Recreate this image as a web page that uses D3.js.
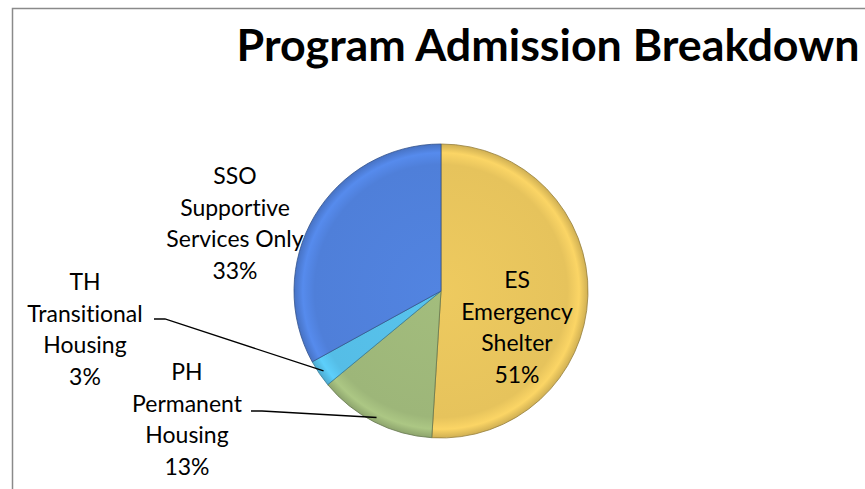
<!DOCTYPE html>
<html>
<head>
<meta charset="utf-8">
<script src="https://cdn.jsdelivr.net/npm/d3@7"></script>
<style>
  body { margin: 0; background: #fff; }
  text { font-family: Lato, "Open Sans", sans-serif; fill: #000; font-variant-ligatures: none; }
</style>
</head>
<body>
<svg id="chart" width="865" height="489"></svg>
<script>
// ------ data ------
var codes = ['ES', 'PH', 'TH', 'SSO']
var names = ['Emergency Shelter', 'Permanent Housing', 'Transitional Housing', 'Supportive Services Only']
var shares = [51, 13, 3, 33]
var colors = ['#e6c35c', '#9db679', '#55bde6', '#4f7fd9']

// label lines, as shown in the chart
var labelLines = [
  ['ES', 'Emergency', 'Shelter', '51%'],
  ['PH', 'Permanent', 'Housing', '13%'],
  ['TH', 'Transitional', 'Housing', '3%'],
  ['SSO', 'Supportive', 'Services Only', '33%']
]

var svg = d3.select('#chart')

// frame of the chart area
svg.append('rect')
  .attr('x', 12.5).attr('y', 8.5)
  .attr('width', 900).attr('height', 600)
  .attr('fill', '#fff')
  .attr('stroke', '#8a8a8a')
  .attr('stroke-width', 1.5)

// ------ title ------
var title = svg.append('text')
  .attr('x', 548).attr('y', 61)
  .attr('text-anchor', 'middle')
  .attr('font-weight', 'bold')
  .attr('font-size', 34)
  .text('Program Admission Breakdown')
// squeeze to the Calibri width of the original
var tw = title.node().getComputedTextLength()
title.attr('font-size', 34 * 623 / tw)

// ------ pie ------
var cx = 441, cy = 291, r = 147

var pie = d3.pie().sort(null).value(function (d) { return d })
var arcs = pie(shares)
var arc = d3.arc().innerRadius(0).outerRadius(r)

var defs = svg.append('defs')
colors.forEach(function (c, i) {
  var g = defs.append('radialGradient')
    .attr('id', 'grad' + i)
    .attr('gradientUnits', 'userSpaceOnUse')
    .attr('cx', 0).attr('cy', 0).attr('r', r)
  g.append('stop').attr('offset', '0%').attr('stop-color', d3.color(c).brighter(0.1))
  g.append('stop').attr('offset', '86%').attr('stop-color', c)
  g.append('stop').attr('offset', '94%').attr('stop-color', d3.color(c).brighter(0.25))
  g.append('stop').attr('offset', '100%').attr('stop-color', d3.color(c).darker(0.3))
})

var g = svg.append('g').attr('transform', 'translate(' + cx + ',' + cy + ')')

g.selectAll('path.slice')
  .data(arcs)
  .enter().append('path')
  .attr('class', 'slice')
  .attr('d', arc)
  .attr('fill', function (d, i) { return 'url(#grad' + i + ')' })
  .attr('stroke', function (d, i) { return d3.color(colors[i]).darker(1.2) })
  .attr('stroke-width', 0.8)

// ------ labels ------
// pick a size between the widths of 'Services Only' (~126px) and 'Transitional' (~125px)
function fit (s, w) {
  var probe = svg.append('text').attr('font-size', 20).text(s)
  var size = 20 * w / probe.node().getComputedTextLength()
  probe.remove()
  return size
}
var labelSize = (fit('Services Only', 126) + fit('Transitional', 125)) / 2

// label centre positions (x, first line y) relative to the chart
var labelPos = [[517, 280], [187, 372], [85, 282], [235, 176]]
var lineGap = 31.7

labelLines.forEach(function (lines, i) {
  var t = svg.append('text')
    .attr('text-anchor', 'middle')
    .attr('font-size', labelSize)
  lines.forEach(function (s, j) {
    t.append('tspan')
      .attr('x', labelPos[i][0])
      .attr('y', labelPos[i][1] + j * lineGap + 8)
      .text(s)
  })
})

// ------ leader lines for the small slices ------
var leaderStart = { 2: [154, 319], 1: [251, 411] }
var leaderArc = d3.arc().innerRadius(r - 5).outerRadius(r - 5)
Object.keys(leaderStart).forEach(function (k) {
  var s = leaderStart[k]
  var c = leaderArc.centroid(arcs[k])
  var pts = [[s[0], s[1]], [s[0] + 11, s[1]], [cx + c[0], cy + c[1]]]
  svg.append('path')
    .attr('d', d3.line()(pts))
    .attr('fill', 'none')
    .attr('stroke', '#000')
    .attr('stroke-width', 1.3)
})
</script>
</body>
</html>
